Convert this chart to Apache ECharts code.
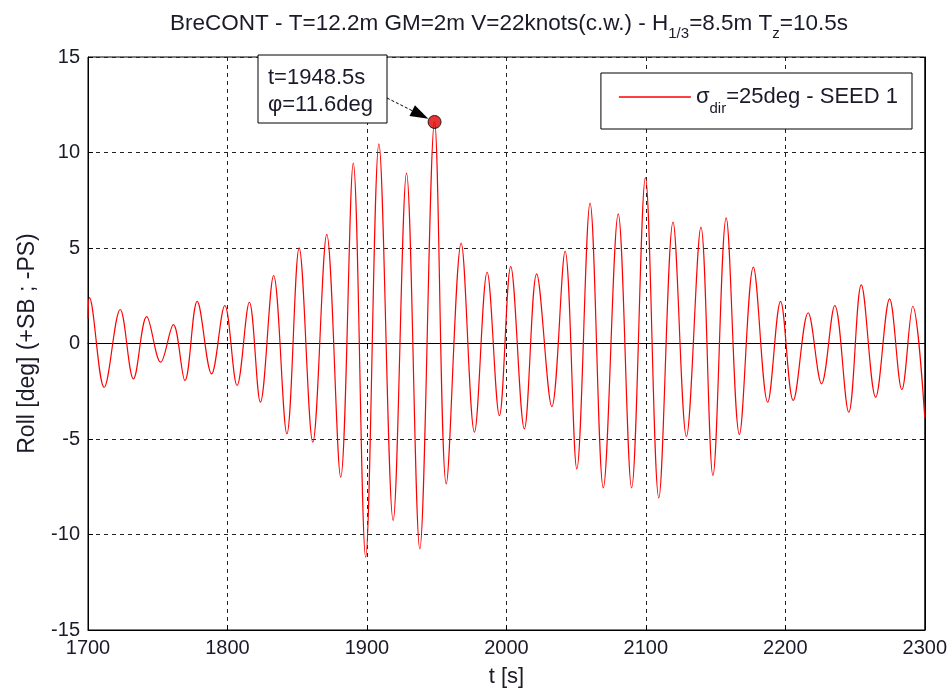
<!DOCTYPE html>
<html>
<head>
<meta charset="utf-8">
<script src="https://cdn.jsdelivr.net/npm/echarts@6/dist/echarts.min.js"></script>
<style>
html,body{margin:0;padding:0;background:#fff;}
#chart{width:950px;height:693px;}
</style>
</head>
<body>
<div id="chart"></div>
<script>
// ---- data ----
const tSec = [1700, 1701, 1711.6, 1723.1, 1732.6, 1742.1, 1752.1, 1761.2, 1769.5, 1778.3, 1788.6, 1798.1,
  1806.9, 1815.7, 1823.6, 1833.1, 1842.6, 1851.4, 1861.2, 1871.2, 1881.2, 1890.2, 1899.1,
  1908.6, 1918.8, 1928.4, 1937.9, 1948.5, 1956.9, 1967.6, 1977.1, 1986.2, 1995.0,
  2003.1, 2012.9, 2021.7, 2032.6, 2042.1, 2050.5, 2060.0, 2069.5, 2080.2, 2089.8,
  2099.7, 2109.3, 2119.5, 2129.1, 2139.5, 2148.1, 2157.6, 2167.1, 2177.1, 2187.4, 2196.6,
  2205.7, 2216.4, 2226.0, 2235.5, 2245.5, 2254.5, 2264.8, 2274.8, 2283.6, 2291.4, 2300];
const roll = [1.3, 2.4, -2.29, 1.78, -1.85, 1.41, -0.98, 0.99, -1.94, 2.21, -1.59, 1.99,
  -2.20, 2.16, -3.07, 3.56, -4.73, 5.01, -5.17, 5.71, -7.0, 9.44, -11.19,
  10.45, -9.27, 8.92, -10.75, 11.6, -7.35, 5.25, -4.64, 3.73, -3.77,
  4.03, -4.47, 3.65, -3.30, 4.83, -6.56, 7.35, -7.56, 6.79, -7.56,
  8.68, -8.08, 6.35, -4.87, 6.09, -6.91, 6.58, -4.76, 4.0, -3.07, 2.21,
  -2.98, 1.61, -2.11, 1.99, -3.6, 3.07, -2.81, 2.34, -2.42, 1.95, -3.86];
const xTicks = [1700, 1800, 1900, 2000, 2100, 2200, 2300];
const yTicks = [-15, -10, -5, 0, 5, 10, 15];
const peakT = 1948.5;
const peakRoll = 11.6;
const seriesName = 'σ{sub|dir}=25deg - SEED 1';
const titleText = 'BreCONT - T=12.2m GM=2m V=22knots(c.w.) - H{sub|1/3}=8.5m T{sub|z}=10.5s';
const annLines = ['t=' + peakT + 's', 'φ=' + peakRoll + 'deg'];

const FONT = '"Liberation Sans", Arial, sans-serif';
const TXT = '#1a1a2a';
const chart = echarts.init(document.getElementById('chart'), null, {renderer: 'canvas'});

const gridLine = {show: true, lineStyle: {color: '#222', width: 1, type: [4, 4]}};
const tickIn = {show: true, inside: true, length: 5, lineStyle: {color: '#000'}};

const option = {
  animation: false,
  backgroundColor: '#fff',
  title: {
    text: titleText,
    left: 504, top: 7,
    textAlign: 'center',
    textStyle: {
      fontFamily: FONT, fontSize: 22.5, fontWeight: 'normal', color: TXT,
      rich: {sub: {fontFamily: FONT, fontSize: 15, color: TXT, verticalAlign: 'bottom', padding: [0, 0, -6, 0]}}
    }
  },
  legend: {
    data: [{name: seriesName, icon: 'rect'}],
    right: 38, top: 73,
    orient: 'vertical',
    itemWidth: 72, itemHeight: 1.5, itemGap: 0,
    padding: [13, 14, 13, 18],
    backgroundColor: '#fff',
    borderColor: '#000', borderWidth: 1, borderRadius: 0,
    textStyle: {
      fontFamily: FONT, fontSize: 22, color: TXT,
      rich: {sub: {fontFamily: FONT, fontSize: 15, color: TXT, verticalAlign: 'bottom', padding: [0, 0, -8, 0]}}
    },
    selectedMode: false
  },
  grid: {left: 88, right: 22, top: 57, bottom: 63, show: true, borderColor: '#000', borderWidth: 1, backgroundColor: 'transparent'},
  xAxis: [{
    type: 'value', min: 1700, max: 2300, interval: 100,
    name: 't [s]', nameLocation: 'middle', nameGap: 36,
    nameTextStyle: {fontFamily: FONT, fontSize: 22, color: TXT},
    axisLine: {show: true, onZero: false, lineStyle: {color: '#000'}},
    axisTick: tickIn,
    axisLabel: {fontFamily: FONT, fontSize: 20, color: TXT, margin: 8, formatter: v => String(v)},
    splitLine: gridLine
  }, {
    type: 'value', min: 1700, max: 2300, interval: 100, position: 'top',
    axisLine: {show: true, lineStyle: {color: '#000'}},
    axisTick: tickIn, axisLabel: {show: false}, splitLine: {show: false}
  }],
  yAxis: [{
    type: 'value', min: -15, max: 15, interval: 5,
    name: 'Roll [deg] (+SB ; -PS)', nameLocation: 'middle', nameGap: 49,
    nameTextStyle: {fontFamily: FONT, fontSize: 23, color: TXT},
    axisLine: {show: true, onZero: false, lineStyle: {color: '#000'}},
    axisTick: tickIn,
    axisLabel: {fontFamily: FONT, fontSize: 20, color: TXT, margin: 8, formatter: v => String(v)},
    splitLine: gridLine
  }, {
    type: 'value', min: -15, max: 15, interval: 5, position: 'right',
    axisLine: {show: true, lineStyle: {color: '#000'}},
    axisTick: tickIn, axisLabel: {show: false}, splitLine: {show: false}
  }],
  series: [{
    name: seriesName,
    type: 'line',
    data: tSec.map((t, i) => [t, roll[i]]),
    smooth: 0.36,
    showSymbol: false,
    symbol: 'none',
    lineStyle: {color: '#ff0000', width: 1.2},
    itemStyle: {color: '#ff0000'},
    z: 3
  }, {
    name: 'peak',
    type: 'scatter',
    data: [[peakT, peakRoll]],
    symbol: 'circle', symbolSize: 13,
    itemStyle: {color: '#e00000', borderColor: '#000', borderWidth: 1},
    z: 5
  }]
};
chart.setOption(option);

// annotation box + arrow
const p = chart.convertToPixel({gridIndex: 0}, [peakT, peakRoll]);
const box = {x: 258, y: 55, w: 129, h: 68};
const start = [box.x + box.w, box.y + 43];
const dx = p[0] - start[0], dy = p[1] - start[1];
const len = Math.sqrt(dx * dx + dy * dy);
const ux = dx / len, uy = dy / len;
const tip = [p[0] - ux * 7, p[1] - uy * 7];
const headLen = 18, headW = 6;
const base = [tip[0] - ux * headLen, tip[1] - uy * headLen];
const nx = -uy, ny = ux;
chart.setOption({
  graphic: [
    {type: 'rect', shape: {x: box.x, y: box.y, width: box.w, height: box.h},
      style: {fill: '#fff', stroke: '#000', lineWidth: 1}, z: 100},
    {type: 'text', x: box.x + 10, y: box.y + 23, style: {text: annLines[0], font: '22px ' + FONT, fill: TXT, verticalAlign: 'middle'}, z: 101},
    {type: 'text', x: box.x + 10, y: box.y + 50, style: {text: annLines[1], font: '22px ' + FONT, fill: TXT, verticalAlign: 'middle'}, z: 101},
    {type: 'line', shape: {x1: start[0], y1: start[1], x2: base[0], y2: base[1]},
      style: {stroke: '#000', lineWidth: 1, lineDash: [3, 2]}, z: 100},
    {type: 'polygon', shape: {points: [tip, [base[0] + nx * headW, base[1] + ny * headW], [base[0] - nx * headW, base[1] - ny * headW]]},
      style: {fill: '#000'}, z: 100}
  ]
});
</script>
</body>
</html>
